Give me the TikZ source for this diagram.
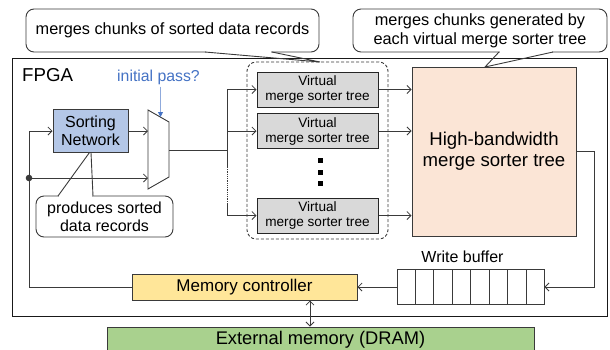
\documentclass[tikz,border=0pt]{standalone}
\usepackage{fontspec}
\setmainfont{Liberation Sans}
\usetikzlibrary{arrows.meta,calc}
\definecolor{lnc}{HTML}{3A3A3A}
\definecolor{sortfill}{HTML}{B4C7E7}
\definecolor{hbfill}{HTML}{FBE5D6}
\definecolor{mcfill}{HTML}{FFE699}
\definecolor{extfill}{HTML}{A9D18E}
\definecolor{vfill}{HTML}{D9D9D9}
\definecolor{bluetxt}{HTML}{4472C4}
\definecolor{blueln}{HTML}{8FAADC}
\begin{document}
\begin{tikzpicture}[x=1pt,y=-1pt,
  box/.style={draw=lnc, line width=1pt, inner sep=0pt, align=center},
  vbox/.style={box, draw=black!85, fill=vfill, minimum width=121pt, minimum height=35pt,
    font=\fontsize{13.6}{15}\selectfont},
  callout/.style={draw=lnc, line width=0.9pt, fill=white, rounded corners=8pt, inner sep=0pt, align=center},
  wire/.style={draw=lnc, line width=0.8pt},
  ar/.style={wire, -{Straight Barb[length=4pt,width=8pt]}},
  dar/.style={wire, {Straight Barb[length=4pt,width=8pt]}-{Straight Barb[length=4pt,width=8pt]}},
  ellip/.style={fill=black, minimum size=5pt, inner sep=0pt}]
\useasboundingbox (0,0) rectangle (610,349);
\clip (0,0) rectangle (610,349);

% FPGA frame
\node[draw=black!90, line width=0.9pt, minimum width=595pt, minimum height=258pt, inner sep=0pt] (fpga) at (309.5,187) {};
\node[anchor=west, font=\fontsize{18.7}{20}\selectfont, inner sep=0pt] (fpgal) at (22,75) {FPGA};

% callouts
\node[callout, minimum width=293pt, minimum height=43pt, font=\fontsize{16.3}{19}\selectfont] (co1) at (172.5,30.5) {merges chunks of sorted data records};
\coordinate (t1a) at (205,52);
\coordinate (t1b) at (272,52);
\coordinate (t1tip) at (320,62);
\draw[white, line width=1.6pt] ($(t1a)+(1,0)$) -- ($(t1b)+(-1,0)$);
\draw[wire, line width=0.9pt] (t1a) -- (t1tip) -- (t1b);

\node[callout, minimum width=254pt, minimum height=43pt, font=\fontsize{16.3}{19}\selectfont] (co2) at (480,30.5) {merges chunks generated by\\each virtual merge sorter tree};
\coordinate (t2a) at (499,52);
\coordinate (t2b) at (553,52);
\coordinate (t2tip) at (485,67);
\draw[white, line width=1.6pt] ($(t2a)+(1,0)$) -- ($(t2b)+(-1,0)$);
\draw[wire, line width=0.9pt] (t2a) -- (t2tip) -- (t2b);

% sorting network and mux
\node[box, fill=sortfill, minimum width=75pt, minimum height=43pt, font=\fontsize{16}{17.5}\selectfont] (sort) at (90.5,131) {Sorting\\Network};
\coordinate (mtl) at (148,110);
\coordinate (mtr) at (169,122);
\coordinate (mbr) at (169,177);
\coordinate (mbl) at (148,189);
\draw[wire, line width=0.9pt] (mtl) -- (mtr) -- (mbr) -- (mbl) -- cycle;
\coordinate (mi1) at (148,131);
\coordinate (mi2) at (148,178);
\coordinate (mo) at (169,150);
\coordinate (mtop) at (160.5,117);

\node[font=\fontsize{15.8}{18}\selectfont, text=bluetxt, inner sep=0pt] (ip) at (158.5,77) {initial pass?};
\draw[draw=blueln, line width=0.8pt, -{Triangle[length=5pt,width=5pt,color=bluetxt]}] (ip.south -| mtop) ++(0,2) -- (mtop);

% feedback loop
\coordinate (dot) at (29,178);
\fill[lnc] (dot) circle (3.3pt);
\draw[ar] (dot) |- (sort.west);
\draw[ar] (sort.east) -- (mi1);
\draw[ar] (dot) -- (mi2);

% callout 3
\node[callout, minimum width=137pt, minimum height=41pt, font=\fontsize{16}{18}\selectfont] (co3) at (104.5,216.5) {produces sorted\\data records};
\coordinate (t3a) at (58,196);
\coordinate (t3b) at (93,196);
\coordinate (t3tip1) at (89.5,152.5);
\coordinate (t3tip2) at (91,152.5);
\draw[white, line width=1.6pt] ($(t3a)+(1,0)$) -- ($(t3b)+(-1,0)$);
\draw[wire, line width=0.9pt] (t3a) -- (t3tip1) -- (t3tip2) -- (t3b);

% virtual merge sorter trees
\node[draw=lnc, line width=0.9pt, dash pattern=on 3pt off 2pt, rounded corners=9pt, minimum width=141pt, minimum height=177pt, inner sep=0pt] (grp) at (317.5,150.5) {};
\node[vbox] (v1) at (317.5,89.5) {Virtual\\merge sorter tree};
\node[vbox] (v2) at (317.5,131) {Virtual\\merge sorter tree};
\node[vbox] (v3) at (317.5,215.5) {Virtual\\merge sorter tree};
\node[ellip] (e1) at (320,160.5) {};
\node[ellip] (e2) at (320,172) {};
\node[ellip] (e3) at (320,183.5) {};

\coordinate (sp) at (227,150);
\coordinate (d1) at (227,167);
\coordinate (d2) at (227,203);
\draw[wire] (mo) -- (sp);
\draw[wire] (sp |- v1.west) -- (d1);
\draw[wire, densely dotted] (d1) -- (d2);
\draw[wire] (d2) -- (sp |- v3.west);
\draw[ar] (sp |- v1.west) -- (v1.west);
\draw[ar] (sp |- v2.west) -- (v2.west);
\draw[ar] (sp |- v3.west) -- (v3.west);

% high-bandwidth tree
\node[box, fill=hbfill, minimum width=164pt, minimum height=169pt, font=\fontsize{18.6}{21}\selectfont] (hb) at (494,151.5) {High-bandwidth\\merge sorter tree};
\draw[ar] (v1.east) -- (v1.east -| hb.west);
\draw[ar] (v2.east) -- (v2.east -| hb.west);
\draw[ar] (v3.east) -- (v3.east -| hb.west);

% write buffer
\node[draw=lnc, line width=0.9pt, minimum width=147pt, minimum height=35pt, inner sep=0pt] (wb) at (470.5,287) {};
\foreach \k in {1,...,7}
  \draw[wire] ($(wb.north west)!\k/8!(wb.north east)$) -- ($(wb.south west)!\k/8!(wb.south east)$);
\node[font=\fontsize{16}{18}\selectfont, inner sep=0pt] (wbl) at (462.5,257) {Write buffer};
\coordinate (turn) at (594,287);
\draw[ar] (hb.east) -| (turn) -- (wb.east);

% memory controller
\node[box, fill=mcfill, minimum width=225pt, minimum height=26pt, font=\fontsize{17}{19}\selectfont] (mc) at (244.5,287) {Memory controller};
\draw[ar] (wb.west) -- (wb.west -| mc.east);
\draw[wire] (dot) |- (mc.west);

% external memory
\node[box, fill=extfill, minimum width=427pt, minimum height=26pt, font=\fontsize{18.3}{20}\selectfont] (ext) at (320.5,340) {External memory (DRAM)};
\coordinate (ma) at (310,0);
\draw[dar] (mc.south -| ma) -- (ext.north -| ma);
\end{tikzpicture}
\end{document}
